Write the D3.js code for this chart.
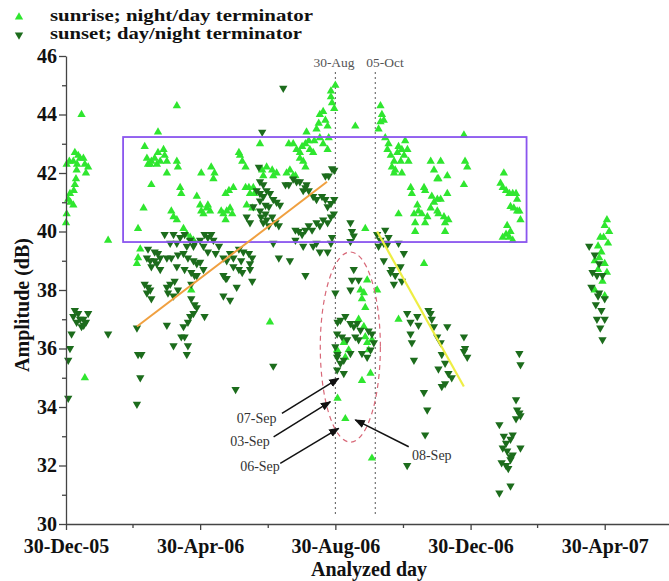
<!DOCTYPE html>
<html>
<head>
<meta charset="utf-8">
<script src="https://cdn.jsdelivr.net/npm/d3@7"></script>
<style>
  body { margin: 0; background: #fff; }
  svg { display: block; }
</style>
</head>
<body>
<div id="chart"></div>
<script>
/* ============================================================
   VLF amplitude at terminator times, D3 scatter
   ============================================================ */

// day number counted from 30-Dec-05, amplitude in dB
const sunrise = [
    [14,44.0],[0.6,42.3],[6.6,42.4],[11,42.6],[12.7,42.5],[15.7,42.5],[17,42.3],[20,42.2],[9.6,42.1],
    [3,42.4],[8,42.7],[10,42.3],[18,42.0],[9,41.8],[7,41.4],[3.6,41.3],[6.6,40.9],[0.6,40.6],[0,40.3],
    [4,41.0],[8,41.6],[2,41.1],[17,35.0],[38,39.7],
    [83,43.4],[100,44.3],[71,42.9],[73,42.5],[74,42.3],[77,42.4],[80,42.5],[83,42.7],[85,42.4],[88,42.8],
    [89,42.6],[91,42.4],[82,42.3],[76,42.3],[100,42.4],[101,42.2],[91,42.0],[77,41.6],[103,41.5],[104,41.3],
    [70,40.8],[95,40.7],[97,40.5],[100,40.4],[65,40.1],[67,39.4],[65,39.1],[64,38.9],[118,41.2],
    [121,40.9],[122,40.7],[127,40.8],[128,40.9],[124,40.6],[130,40.7],[122,42.0],[131,42.2],[133,41.8],[134,42.0],
    [106,40.1],[112,39.8],[115,39.7],[109,39.9],[113,38.0],
    [140,40.7],[142,40.6],[144,40.4],[145,40.7],[148,40.8],[150,40.6],[144,41.3],[147,41.4],[151,41.5],
    [156,42.7],[157,42.6],[159,42.4],[162,42.2],[162,41.5],[165,41.5],[166,41.3],[169,41.5],[170,41.3],
    [163,40.9],[168,40.8],[175,43.0],[177,42.1],[178,41.9],[181,42.2],[186,42.1],[187,41.9],[190,42.0],
    [199,42.0],[202,42.1],[205,41.9],[207,41.9],
    [201,43.0],[205,43.0],[208,42.8],[211,42.7],[213,42.9],[216,43.0],[217,43.4],[219,43.1],[220,42.8],
    [223,42.7],[224,43.1],[211,42.5],[214,42.4],[216,42.2],
    [226,43.5],[228,43.7],[229,44.0],[232,44.1],[234,43.8],[236,43.6],[239,44.6],[240,44.4],[242,44.2],
    [239,44.8],[243,45.0],[229,43.2],[232,43.0],[236,42.8],[237,43.2],[184,36.9],
    [245,34.3],[252,33.6],[261,43.6],[270,40.1],
    [283.7,44.3],[285,44.0],[283.7,43.75],[286.7,43.8],[282,43.5],
    [288,43.2],[291,43.0],[290,42.8],[293,42.6],[296,42.4],[297,42.1],[294,42.2],[299,42.7],[300,42.9],
    [303,42.8],[306,43.1],[308,42.8],[305,42.6],[302,42.4],[309,42.4],[303,42.0],[296,42.0],
    [311,41.5],[312,41.3],[323,41.5],[324,41.4],[329,42.4],[332,42.1],[335,41.8],[336,41.8],[338,42.4],[344,41.9],
    [330,41.2],[317,40.9],[318,40.7],[321,40.6],[326,40.5],[329,40.8],[332,41.0],[335,41.1],[338,41.1],
    [335,40.7],[336,40.6],[341,40.5],[342,40.3],[345,40.4],[314,40.6],[315,40.3],[315,40.0],[324,40.3],[342,40.0],
    [300,40.6],[359,41.6],[360,42.4],[362,42.2],[359,43.3],[344,41.3],
    [395,42.0],[392,41.65],[394,41.5],[397,41.4],[400,41.3],[403,41.3],[406,41.3],[407,41.1],[401,40.85],
    [404,40.8],[409,40.7],[410,40.4],[407,40.7],
    [394,39.8],[397,39.9],[400,39.8],[403,39.7],[401,40.0],[398,40.2],
    [323,38.9],[300,37.0],[276,32.25],
    [271.7,38.34],[265.7,38.0],[268.7,37.9],[267,37.7],[270,37.4],[264,37.0],[268.7,36.75],[270,36.4],
    [271.7,36.2],[273,35.95],[274.7,35.15],[267,34.9],[280.7,38.0],[276,36.3],[250.6,36.2],[255,35.95],
    [252,35.7],[244.6,35.95],
    [488,40.4],[486,40.2],[490,40.0],[482,39.8],[480,39.5],[489,39.6],[483,39.3],[477,39.0],[486,38.9],
    [480,38.7],[488,38.6],[484,38.3],[477,38.0],[486,37.8],[481,39.1],[485,39.8]
];

const sunset = [
    [6.6,37.1],[11,37.2],[12.7,37.0],[15.7,37.0],[9.6,36.9],[14,36.75],[18,36.9],[5,36.5],[3.6,36.0],
    [2,35.6],[2,34.3],[20,37.2],[8,37.3],[16,36.8],[38,36.5],
    [196,44.9],[177,43.4],[174,42.2],[175,41.7],[178,41.6],
    [172,41.4],[175,41.3],[178,41.2],[181,41.4],[184,41.3],[187,41.1],[190,41.0],[193,40.9],[180,40.9],
    [183,40.85],[175,41.05],[169,40.85],[175,40.7],[180,40.6],[181,40.4],[186,40.5],[189,40.3],[192,40.2],
    [178,40.3],[183,40.2],[176,40.5],[163,40.5],[166,40.3],
    [198,41.6],[201,41.6],[205,41.8],[208,41.7],[211,41.7],[216,41.5],[217,41.6],
    [214,41.4],[219,41.4],[223,41.2],[226,41.1],[231,41.2],[234,41.1],[236,40.85],[239,40.96],[242,41.1],
    [207,40.05],[210,40.0],[213,39.9],[216,40.05],[219,40.2],[222,40.05],[226,40.3],[229,40.2],[232,40.4],
    [236,40.3],[239,40.5],[242,42.1],[237,41.9],[234,41.9],
    [226,39.6],[229,39.3],[236,39.3],[239,39.6],[207,39.7],[214,39.5],[223,39.5],
    [187,39.6],[192,39.1],[202,39.0],[216,38.5],
    [89,39.9],[97,39.9],[103,39.8],[107,39.9],[112,39.7],[116,39.6],[121,39.7],[125,39.9],[128,39.8],
    [131,39.9],[133,39.7],[94,39.6],[100,39.6],[109,39.5],[115,39.5],[124,39.5],
    [74,39.4],[80,39.3],[83,39.25],[85,39.1],[80,39.0],[76,39.0],[73,39.1],[82,38.9],[85,38.7],[77,38.8],
    [91,39.1],[95,39.1],[101,39.2],[106,39.25],[110,39.1],[115,39.0],[118,38.9],[121,38.95],[128,39.3],
    [135,39.25],[138,39.5],[142,39.1],[145,39.0],[148,39.25],[151,39.1],[156,39.4],[160,39.3],[165,39.25],
    [168,39.1],[158,39.0],[166,38.9],
    [100,38.8],[107,38.7],[113,38.6],[118,38.5],[124,38.7],[142,38.5],[145,38.4],[151,38.8],[156,38.7],
    [159,38.6],[166,38.7],[71,38.2],[74,38.1],[76,38.0],[77,37.7],[73,37.9],
    [91,38.1],[94,38.2],[98,38.3],[101,38.0],[92,37.9],[97,37.8],[116,38.5],[113,38.2],
    [144,38.4],[154,38.1],[168,38.3],[142,37.8],[148,37.65],
    [113,37.7],[118,37.4],[115,37.2],[112,37.1],[110,36.9],[125,37.1],[116,37.5],[64,36.7],
    [91,36.8],[106,36.75],[107,36.4],[104,36.4],[110,36.1],[109,35.8],[97,36.1],
    [65,35.8],[68,35.8],[67,35.0],[64,34.1],[187,35.4],[153,34.6],
    [240,42.15],[241.6,40.6],[240,39.8],[256.6,40.3],[258,40.0],[259.6,39.85],[256.6,39.66],
    [280.7,39.9],[283.7,39.7],[286.7,39.6],[289.8,39.55],[288,40.05],[291,39.8],[282,39.5],[300,39.6],
    [304.8,39.25],[286.7,39.0],[294,38.7],[297,38.5],[301.8,38.8],[303,38.3],[295.8,38.2],[292.8,38.6],
    [307.8,37.2],[310.8,36.9],[316.9,37.1],[318,36.8],[327,37.3],[328.9,37.2],[330,37.0],[331.9,36.75],
    [310.8,36.5],[312,36.2],[313.9,35.6],[334.9,36.4],[338,36.2],[344,36.75],[339,35.8],[336,35.3],
    [342,35.5],[345,35.15],[348,35.0],[359,36.4],[360,36.0],[362,35.7],[359,35.9],[339,34.7],[342,34.8],
    [322.9,34.5],[325.9,33.9],[324,33.05],[307.8,32.0],
    [243,37.9],[245,36.9],[245,35.8],
    [259.6,38.7],[258,38.34],[256.6,38.0],[264,38.34],[247.6,36.97],[252,37.1],[256.6,36.86],[259.6,36.75],
    [262.7,36.86],[265.7,36.63],[244.6,36.5],[249,36.4],[253.6,36.3],[261,36.4],[264,36.3],[273,36.6],
    [276,36.5],[277.7,36.2],[274.7,35.95],[271.7,35.7],[267,35.83],[256.6,35.83],[250.6,35.6],[247.6,35.5],
    [244.6,35.27],[250.6,35.15],[243,36.06],[244.6,35.7],
    [409,35.83],[410,35.45],[406,34.25],[407,33.9],[409,33.8],[406,33.6],[410,33.7],[391,33.4],[403,33.05],
    [401,32.9],[397,32.76],[394,32.6],[398,32.5],[403,32.36],[401,32.2],[397,32.0],[410,32.6],[395,33.0],
    [391,31.06],[401,31.3],[399,31.9],[393,32.1],[401,32.3],
    [472,39.5],[477,39.2],[481,38.9],[475,38.6],[479,38.5],[484,38.5],[474,38.1],[481,37.9],[486,37.7],
    [478,37.5],[483,37.3],[479,37.0],[486,37.0],[482,36.7],[484,36.3],[480,37.8]
];

const xTickDates = ['2005-12-30', '2006-04-30', '2006-08-30', '2006-12-30', '2007-04-30'];
const xMinorDates = ['2006-02-28', '2006-06-30', '2006-10-30', '2007-02-28'];
const yTicks = [30, 32, 34, 36, 38, 40, 42, 44, 46];
const yMinor = [31, 33, 35, 37, 39, 41, 43, 45];

const eventLines = [
    { date: '2006-08-30', label: '30-Aug' },
    { date: '2006-10-05', label: '05-Oct' }
];

// [day, dB] pairs
const orangeTrend = [[64, 36.75], [235.5, 41.7]];
const yellowTrend = [[280.7, 40.0], [358.9, 34.7]];
const boxDays = [51.5, 415.5];
const boxDb = [39.64, 43.23];
const ellipseDays = [229.4, 283.6];
const ellipseDb = [32.8, 39.3];

// arrow: from (day, dB) to (day, dB), label centre
const arrows = [
    { label: '07-Sep', from: [194.8, 33.78], to: [246, 34.98], text: [172, 33.45] },
    { label: '03-Sep', from: [187.3, 32.98], to: [238.5, 34.18], text: [166, 32.65] },
    { label: '06-Sep', from: [193.3, 32.07], to: [246, 33.27], text: [175, 31.8] },
    { label: '08-Sep', from: [309.2, 32.64], to: [261, 33.56], text: [330, 32.2] }
];

const COLORS = {
    sunrise: '#2fe62f',
    sunset: '#1c6c1c',
    axis: '#444',
    box: '#8a55ee',
    orange: '#f0a040',
    yellow: '#eeee44',
    ellipse: '#d86878'
};

const SERIF = '"Liberation Serif", "Times New Roman", serif';
const width = 669, height = 581;
const parse = d3.timeParse('%Y-%m-%d');
const day0 = parse('2005-12-30');
const toDate = d => new Date(day0.getTime() + d * 864e5);

const x = d3.scaleTime()
    .domain([day0, parse('2007-06-27')])
    .range([66, 669]);
const y = d3.scaleLinear().domain([30, 46]).range([524, 56]);

const svg = d3.select('#chart')
    .append('svg')
    .attr('width', width)
    .attr('height', height)
    .style('font-family', SERIF);

// Arrow head
svg.append('defs').append('marker')
    .attr('id', 'head')
    .attr('viewBox', '0 0 10 10')
    .attr('refX', 9).attr('refY', 5)
    .attr('markerWidth', 7).attr('markerHeight', 7)
    .attr('orient', 'auto')
    .append('path')
    .attr('d', 'M0,1 L10,5 L0,9 Z')
    .attr('fill', '#111');

// Event lines
eventLines.forEach(e => {
    const xv = x(parse(e.date));
    svg.append('line')
        .attr('x1', xv).attr('x2', xv)
        .attr('y1', 72).attr('y2', 514)
        .attr('stroke', '#555')
        .attr('stroke-width', 1)
        .attr('stroke-dasharray', '2,3');
});
svg.append('text').attr('x', 334).attr('y', 67).attr('text-anchor', 'middle')
    .attr('font-size', '13.5px').attr('fill', '#555').text(eventLines[0].label);
svg.append('text').attr('x', 385).attr('y', 67).attr('text-anchor', 'middle')
    .attr('font-size', '13.5px').attr('fill', '#555').text(eventLines[1].label);

// Points
const tri = d3.symbol(d3.symbolTriangle, 30);
svg.append('g').selectAll('path')
    .data(sunrise)
    .enter()
    .append('path')
    .attr('d', tri)
    .attr('transform', d => `translate(${x(toDate(d[0]))},${y(d[1])})`)
    .attr('fill', COLORS.sunrise);

svg.append('g').selectAll('path')
    .data(sunset)
    .enter()
    .append('path')
    .attr('d', tri)
    .attr('transform', d => `translate(${x(toDate(d[0]))},${y(d[1])}) rotate(180)`)
    .attr('fill', COLORS.sunset);

// Box and ellipse
svg.append('rect')
    .attr('x', x(toDate(boxDays[0])))
    .attr('y', y(boxDb[1]))
    .attr('width', x(toDate(boxDays[1])) - x(toDate(boxDays[0])))
    .attr('height', y(boxDb[0]) - y(boxDb[1]))
    .attr('fill', 'none')
    .attr('stroke', COLORS.box)
    .attr('stroke-width', 1.8);

const ex0 = x(toDate(ellipseDays[0])), ex1 = x(toDate(ellipseDays[1]));
const ey0 = y(ellipseDb[1]), ey1 = y(ellipseDb[0]);
svg.append('ellipse')
    .attr('cx', (ex0 + ex1) / 2).attr('cy', (ey0 + ey1) / 2)
    .attr('rx', (ex1 - ex0) / 2).attr('ry', (ey1 - ey0) / 2)
    .attr('fill', 'none')
    .attr('stroke', COLORS.ellipse)
    .attr('stroke-width', 1.2)
    .attr('stroke-dasharray', '5,4');

// Trend lines
const line = d3.line().x(d => x(toDate(d[0]))).y(d => y(d[1]));
svg.append('path').attr('d', line(orangeTrend))
    .attr('stroke', COLORS.orange).attr('stroke-width', 2).attr('fill', 'none');
svg.append('path').attr('d', line(yellowTrend))
    .attr('stroke', COLORS.yellow).attr('stroke-width', 2.2).attr('fill', 'none');

// Arrows with labels
arrows.forEach(a => {
    svg.append('line')
        .attr('x1', x(toDate(a.from[0]))).attr('y1', y(a.from[1]))
        .attr('x2', x(toDate(a.to[0]))).attr('y2', y(a.to[1]))
        .attr('stroke', '#111')
        .attr('stroke-width', 1.5)
        .attr('marker-end', 'url(#head)');
    svg.append('text')
        .attr('x', x(toDate(a.text[0])))
        .attr('y', y(a.text[1]))
        .attr('text-anchor', 'middle')
        .attr('font-size', '14px')
        .attr('fill', '#333')
        .text(a.label);
});

// Axes
const fmt = d3.timeFormat('%d-%b-%y');
const xAxis = svg.append('g')
    .attr('transform', 'translate(0,524)')
    .call(d3.axisBottom(x)
        .tickValues(xTickDates.map(parse))
        .tickFormat(fmt)
        .tickSize(6)
        .tickSizeOuter(0)
        .tickPadding(9));
svg.append('g')
    .attr('transform', 'translate(0,524)')
    .call(d3.axisBottom(x)
        .tickValues(xMinorDates.map(parse))
        .tickFormat('')
        .tickSize(4)
        .tickSizeOuter(0))
    .select('.domain').remove();

const yAxis = svg.append('g')
    .attr('transform', 'translate(66,0)')
    .call(d3.axisLeft(y)
        .tickValues(yTicks)
        .tickSize(7)
        .tickSizeOuter(0)
        .tickPadding(2));
svg.append('g')
    .attr('transform', 'translate(66,0)')
    .call(d3.axisLeft(y)
        .tickValues(yMinor)
        .tickFormat('')
        .tickSize(4)
        .tickSizeOuter(0))
    .select('.domain').remove();

svg.selectAll('.domain, .tick line')
    .attr('stroke', COLORS.axis)
    .attr('stroke-width', 1.3);
[xAxis, yAxis].forEach(g => g.selectAll('text')
    .attr('font-family', SERIF)
    .attr('font-size', '20px')
    .attr('font-weight', 'bold')
    .attr('fill', '#111'));

// Axis titles
svg.append('text')
    .attr('x', 369).attr('y', 576)
    .attr('text-anchor', 'middle')
    .attr('font-size', '20px').attr('font-weight', 'bold').attr('fill', '#111')
    .text('Analyzed day');
svg.append('text')
    .attr('transform', 'translate(29,305) rotate(-90)')
    .attr('text-anchor', 'middle')
    .attr('font-size', '20px').attr('font-weight', 'bold').attr('fill', '#111')
    .text('Amplitude (dB)');

// Legend (text is stretched wide in the original)
const legend = [
    { label: 'sunrise; night/day terminator', color: COLORS.sunrise, rot: 0, y: 21, len: 263 },
    { label: 'sunset; day/night terminator', color: COLORS.sunset, rot: 180, y: 39, len: 252 }
];
legend.forEach(l => {
    svg.append('path')
        .attr('d', tri)
        .attr('transform', `translate(19,${l.y - 4}) rotate(${l.rot})`)
        .attr('fill', l.color);
    svg.append('text')
        .attr('x', 50).attr('y', l.y)
        .attr('font-size', '17px').attr('font-weight', 'bold').attr('fill', '#111')
        .attr('textLength', l.len)
        .attr('lengthAdjust', 'spacingAndGlyphs')
        .text(l.label);
});
</script>
</body>
</html>
